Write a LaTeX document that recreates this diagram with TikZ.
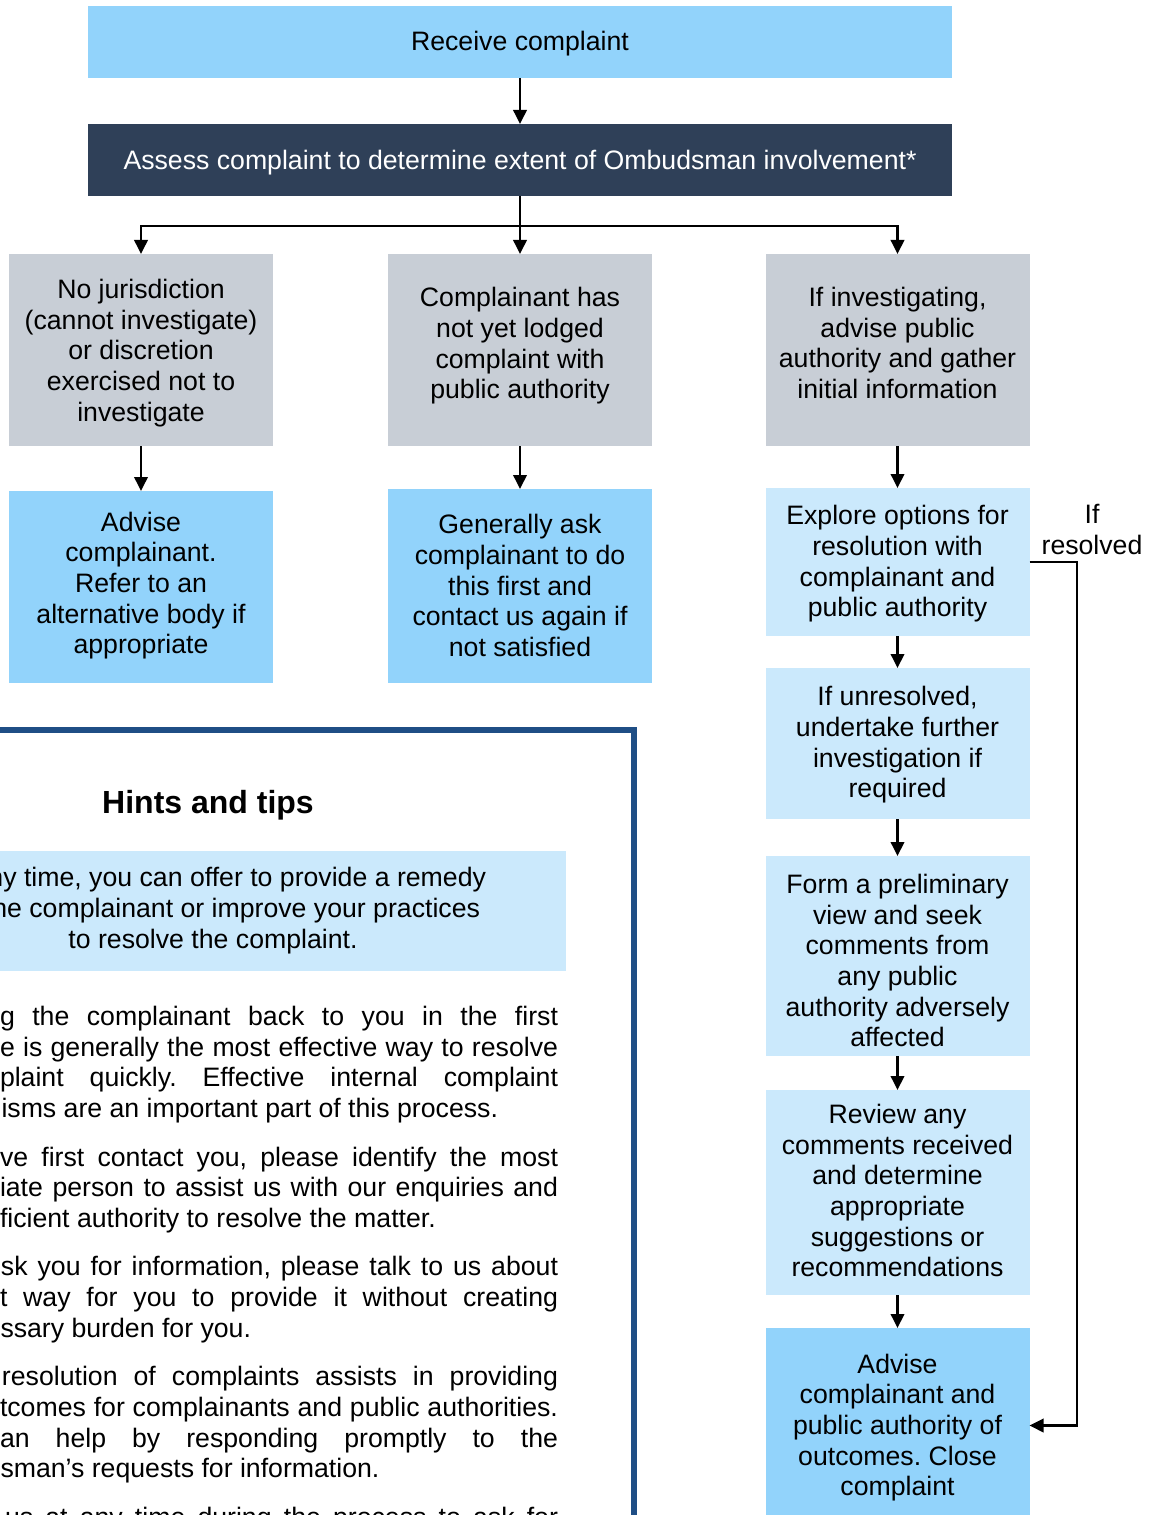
\documentclass[tikz,border=0pt]{standalone}
\usepackage{fontspec}
\setmainfont{Liberation Sans}
\usetikzlibrary{arrows.meta}
\definecolor{midblue}{HTML}{92D3FB}
\definecolor{paleblue}{HTML}{CBE9FC}
\definecolor{greybox}{HTML}{C8CED6}
\definecolor{darkbox}{HTML}{2F4058}
\definecolor{hintblue}{HTML}{1F4E85}
\frenchspacing
\begin{document}
\begin{tikzpicture}[x=0.75pt,y=-0.75pt,
  box/.style={inner sep=0pt,outer sep=0pt,minimum width=198pt},
  txt/.style={align=center,inner sep=0pt,font=\fontsize{20}{23}\selectfont},
  body/.style={inner sep=0pt,outer sep=0pt,font=\fontsize{20}{23}\selectfont},
  arr/.style={line width=1.9pt,-{Triangle[width=10pt,length=10.5pt]}},
  ln/.style={line width=1.9pt}]
\useasboundingbox (0,0) rectangle (1148,1515);
\clip (0,0) rectangle (1148,1515);

% ---------- top boxes ----------
\node[box,fill=midblue,minimum width=648pt,minimum height=54pt] (rec) at (520,42) {};
\node[txt] (trec) at (520,44) {Receive complaint};
\node[box,fill=darkbox,minimum width=648pt,minimum height=54pt] (ass) at (520,160) {};
\node[txt,text=white] (tass) at (520,163) {Assess complaint to determine extent of Ombudsman involvement*};

% ---------- second row ----------
\node[box,fill=greybox,minimum height=144pt] (g1) at (141,350) {};
\node[txt] (tg1) at (141,353) {No jurisdiction\\(cannot investigate)\\or discretion\\exercised not to\\investigate};
\node[box,fill=greybox,minimum height=144pt] (g2) at (520,350) {};
\node[txt] (tg2) at (520,346) {Complainant has\\not yet lodged\\complaint with\\public authority};
\node[box,fill=greybox,minimum height=144pt] (g3) at (897.5,350) {};
\node[txt] (tg3) at (897.5,343) {If investigating,\\advise public\\authority and gather\\initial information};

% ---------- third row ----------
\node[box,fill=midblue,minimum height=144pt] (b4) at (141,587) {};
\node[txt] (tb4) at (141,585.5) {Advise\\complainant.\\Refer to an\\alternative body if\\appropriate};
\node[box,fill=midblue,minimum height=145.5pt] (b5) at (520,586) {};
\node[txt] (tb5) at (520,585.5) {Generally ask\\complainant to do\\this first and\\contact us again if\\not satisfied};

% ---------- right column ----------
\node[box,fill=paleblue,minimum height=111pt] (p6) at (897.5,562) {};
\node[txt] (tp6) at (897.5,564) {Explore options for\\resolution with\\complainant and\\public authority};
\node[box,fill=paleblue,minimum height=113.25pt] (p7) at (897.5,743.5) {};
\node[txt] (tp7) at (897.5,745) {If unresolved,\\undertake further\\investigation if\\required};
\node[box,fill=paleblue,minimum height=150pt] (p8) at (897.5,956) {};
\node[txt] (tp8) at (897.5,960.5) {Form a preliminary\\view and seek\\comments from\\any public\\authority adversely\\affected};
\node[box,fill=paleblue,minimum height=153.75pt] (p9) at (897.5,1192.5) {};
\node[txt] (tp9) at (897.5,1190.5) {Review any\\comments received\\and determine\\appropriate\\suggestions or\\recommendations};
\node[box,fill=midblue,minimum height=146.25pt] (b10) at (897.5,1425.5) {};
\node[txt] (tb10) at (897.5,1427.5) {Advise\\complainant and\\public authority of\\outcomes. Close\\complaint};

\node[txt] (lres) at (1092,529.5) {If\\resolved};

% ---------- connectors ----------
\draw[arr] (rec.south) -- (ass.north);
\coordinate (hb) at (520,226);
\draw[ln] (ass.south) -- (hb);
\draw[arr] (hb) -| (g1.north);
\draw[arr] (hb) -- (g2.north);
\draw[arr] (hb) -| (g3.north);
\draw[arr] (g1.south) -- (b4.north);
\draw[arr] (g2.south) -- (b5.north);
\draw[arr] (g3.south) -- (p6.north);
\draw[arr] (p6.south) -- (p7.north);
\draw[arr] (p7.south) -- (p8.north);
\draw[arr] (p8.south) -- (p9.north);
\draw[arr] (p9.south) -- (b10.north);
\coordinate (fb) at (1077,562);
\draw[arr] (p6.east) -- (fb) |- (b10.east);

% ---------- hints and tips panel ----------
\node[draw=hintblue,line width=4.5pt,inner sep=0pt,minimum width=700.5pt,minimum height=727pt] (hints) at (167,1215) {};
\node[inner sep=0pt,outer sep=0pt,fill=paleblue,minimum width=499.5pt,minimum height=90pt] (tipbox) at (233,911) {};
\node[inner sep=0pt,font=\fontsize{24}{28}\selectfont\bfseries] (htitle) at (208,805) {Hints and tips};

\node[body,anchor=base east] (c1) at (486,886) {ny time, you can offer to provide a remedy};
\node[body,anchor=base east] (c2) at (480,917) {he complainant or improve your practices};
\node[body,anchor=base] (c3) at (213,948) {to resolve the complaint.};

\node[body,anchor=base east] (a1) at (558,1025.5) {\makebox[418.5pt][s]{g the complainant back to you in the first}};
\node[body,anchor=base east] (a2) at (558,1056.2) {\makebox[418.5pt][s]{e is generally the most effective way to resolve}};
\node[body,anchor=base east] (a3) at (558,1086.9) {\makebox[418.5pt][s]{plaint quickly. Effective internal complaint}};
\node[body,anchor=base west] (a4) at (1.5,1117.6) {isms are an important part of this process.};

\node[body,anchor=base east] (b1) at (558,1166) {\makebox[418.5pt][s]{ve first contact you, please identify the most}};
\node[body,anchor=base east] (b2) at (558,1196.7) {\makebox[418.5pt][s]{iate person to assist us with our enquiries and}};
\node[body,anchor=base west] (b3) at (0,1227.4) {ficient authority to resolve the matter.};

\node[body,anchor=base east] (d1) at (558,1275.8) {\makebox[417.75pt][s]{sk you for information, please talk to us about}};
\node[body,anchor=base east] (d2) at (558,1306.5) {\makebox[418.5pt][s]{t way for you to provide it without creating}};
\node[body,anchor=base west] (d3) at (0.5,1337.2) {ssary burden for you.};

\node[body,anchor=base east] (e1) at (558,1385.6) {\makebox[417pt][s]{resolution of complaints assists in providing}};
\node[body,anchor=base east] (e2) at (558,1416.3) {\makebox[418.5pt][s]{tcomes for complainants and public authorities.}};
\node[body,anchor=base east] (e3) at (558,1447) {\makebox[418.5pt][s]{an help by responding promptly to the}};
\node[body,anchor=base west] (e4) at (0.5,1477.7) {sman’s requests for information.};

\node[body,anchor=base east] (f1) at (558,1526) {\makebox[414.75pt][s]{us at any time during the process to ask for}};
\end{tikzpicture}
\end{document}
